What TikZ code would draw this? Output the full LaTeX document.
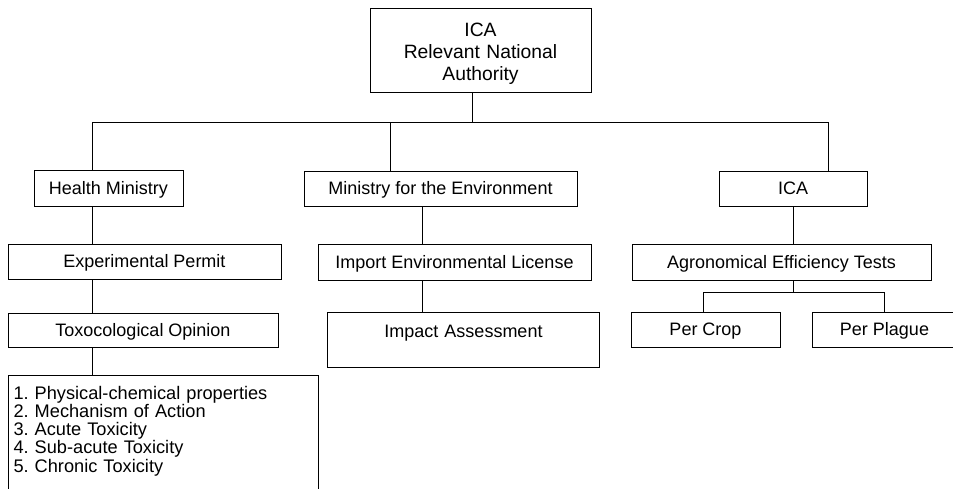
\documentclass[tikz,border=0pt]{standalone}
\usepackage{fontspec}
\setmainfont{Liberation Sans}
\frenchspacing
\begin{document}
\begin{tikzpicture}[x=1pt,y=-1pt,
  box/.style={draw=black, line width=1pt, inner sep=0pt, font=\fontsize{18}{18.25}\selectfont,
              text height=12.9pt, text depth=0pt},
  conn/.style={draw=black, line width=1pt}]
\useasboundingbox (0,0) rectangle (953,488);
\clip (0,0) rectangle (953,488);
% top box
\node[box, font=\fontsize{19.3}{22}\selectfont, text width=217pt, align=center,
      text height=13.8pt, text depth=41.8pt, minimum width=221pt, minimum height=84pt] (top) at (480.5,50)
  {ICA\\Relevant National\\Authority};
% second level
\node[box, minimum width=149pt, minimum height=36pt] (hm) at (108.5,188) {Health Ministry};
\node[box, minimum width=273pt, minimum height=35pt] (me) at (440.5,188.5) {Ministry for the Environment};
\node[box, minimum width=148pt, minimum height=35pt] (ica) at (793,188.5) {ICA};
% third level
\node[box, minimum width=273pt, minimum height=35pt] (ep) at (144.5,261.5) {Experimental Permit};
\node[box, minimum width=273pt, minimum height=36pt] (il) at (454.5,262) {Import Environmental License};
\node[box, minimum width=299pt, minimum height=36pt] (ag) at (781.5,262) {Agronomical Efficiency Tests};
% fourth level
\node[box, minimum width=270pt, minimum height=34pt] (tox) at (143,330) {Toxocological Opinion};
\node[box, anchor=north west, text width=272pt, align=center, text height=24.5pt, text depth=30.5pt] (ia) at (327,312) {Impact Assessment};
\node[box, minimum width=149pt, minimum height=35pt] (pc) at (705.5,329.5) {Per Crop};
\node[box, minimum width=145pt, minimum height=35pt] (pp) at (884.5,329.5) {Per Plague};
% list
\node[box, anchor=north west, inner xsep=5pt, text width=300pt, align=left, font=\fontsize{18.2}{18.25}\selectfont,
      text height=23.7pt, text depth=101.3pt] (list) at (8,375)
  {1. Physical-chemical properties\\2. Mechanism of Action\\3. Acute Toxicity\\4. Sub-acute Toxicity\\5. Chronic Toxicity};
% connector coordinates
\coordinate (bus) at (472,122);
\coordinate (bl) at (92,122);
\coordinate (bm) at (390,122);
\coordinate (br) at (828,122);
\coordinate (cm) at (422,0);
\coordinate (cr) at (793,0);
\coordinate (ab) at (793,292);
\coordinate (abl) at (703,292);
\coordinate (abr) at (884,292);
% connectors
\draw[conn] (top.south -| bus) -- (bus);
\draw[conn] (bl) -- (br);
\draw[conn] (bl) -- (hm.north -| bl);
\draw[conn] (bm) -- (me.north -| bm);
\draw[conn] (br) -- (ica.north -| br);
\draw[conn] (hm.south -| bl) -- (ep.north -| bl);
\draw[conn] (ep.south -| bl) -- (tox.north -| bl);
\draw[conn] (tox.south -| bl) -- (list.north -| bl);
\draw[conn] (me.south -| cm) -- (il.north -| cm);
\draw[conn] (il.south -| cm) -- (ia.north -| cm);
\draw[conn] (ica.south -| cr) -- (ag.north -| cr);
\draw[conn] (ag.south -| cr) -- (ab);
\draw[conn] (abl) -- (abr);
\draw[conn] (abl) -- (pc.north -| abl);
\draw[conn] (abr) -- (pp.north -| abr);
\end{tikzpicture}
\end{document}
